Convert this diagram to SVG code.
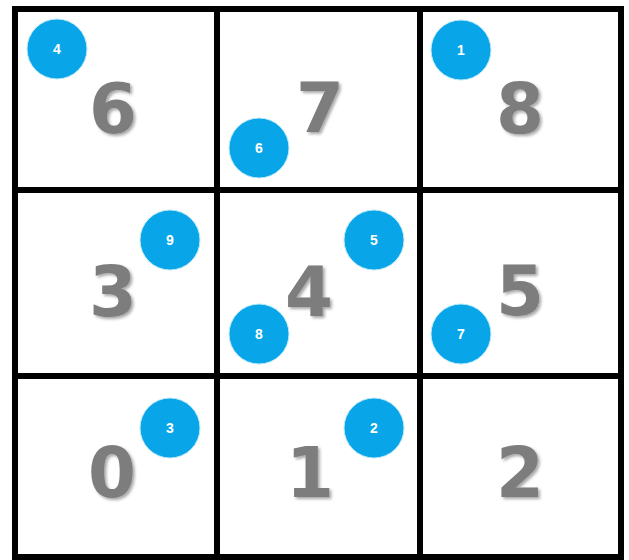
<svg xmlns="http://www.w3.org/2000/svg" width="629" height="560" viewBox="0 0 629 560">
  <defs>
    <filter id="sh" x="-30%" y="-30%" width="160%" height="160%">
      <feDropShadow dx="2" dy="2" stdDeviation="1.5" flood-color="#000" flood-opacity="0.35"/>
    </filter>
    <style>
      .grid { fill: none; stroke: #000; stroke-width: 6; }
      .num { font-family: "DejaVu Sans", "Liberation Sans", sans-serif; font-weight: bold; font-size: 69px; fill: #7d7d7d; text-anchor: middle; filter: url(#sh); }
      .dot { fill: #08A6E8; stroke: #BEEBFA; stroke-width: 1; }
      .dl { font-family: "Liberation Sans", Arial, sans-serif; font-weight: bold; font-size: 14px; fill: #fff; text-anchor: middle; }
    </style>
  </defs>
  <rect width="629" height="560" fill="#fff"/>
  <g id="grid">
    <rect class="grid" x="15" y="9" width="606" height="548"/>
    <line class="grid" x1="217" y1="9" x2="217" y2="557"/>
    <line class="grid" x1="420" y1="9" x2="420" y2="557"/>
    <line class="grid" x1="15" y1="190" x2="621" y2="190"/>
    <line class="grid" x1="15" y1="376" x2="621" y2="376"/>
  </g>
  <g id="cell-6"><text class="num" x="113" y="133">6</text></g>
  <g id="cell-7"><text class="num" x="320" y="132">7</text></g>
  <g id="cell-8"><text class="num" x="520" y="133">8</text></g>
  <g id="cell-3"><text class="num" x="113" y="316">3</text></g>
  <g id="cell-4"><text class="num" x="309" y="316">4</text></g>
  <g id="cell-5"><text class="num" x="520" y="315">5</text></g>
  <g id="cell-0"><text class="num" x="112" y="497">0</text></g>
  <g id="cell-1"><text class="num" x="310" y="497">1</text></g>
  <g id="cell-2"><text class="num" x="520" y="497">2</text></g>
  <g id="dot-1"><circle class="dot" cx="461" cy="50" r="30"/><text class="dl" x="461" y="55">1</text></g>
  <g id="dot-2"><circle class="dot" cx="374" cy="428" r="30"/><text class="dl" x="374" y="433">2</text></g>
  <g id="dot-3"><circle class="dot" cx="170" cy="428" r="30"/><text class="dl" x="170" y="433">3</text></g>
  <g id="dot-4"><circle class="dot" cx="57" cy="49" r="30"/><text class="dl" x="57" y="54">4</text></g>
  <g id="dot-5"><circle class="dot" cx="374" cy="240" r="30"/><text class="dl" x="374" y="245">5</text></g>
  <g id="dot-6"><circle class="dot" cx="259" cy="148" r="30"/><text class="dl" x="259" y="153">6</text></g>
  <g id="dot-7"><circle class="dot" cx="461" cy="334" r="30"/><text class="dl" x="461" y="339">7</text></g>
  <g id="dot-8"><circle class="dot" cx="259" cy="334" r="30"/><text class="dl" x="259" y="339">8</text></g>
  <g id="dot-9"><circle class="dot" cx="170" cy="240" r="30"/><text class="dl" x="170" y="245">9</text></g>
</svg>
